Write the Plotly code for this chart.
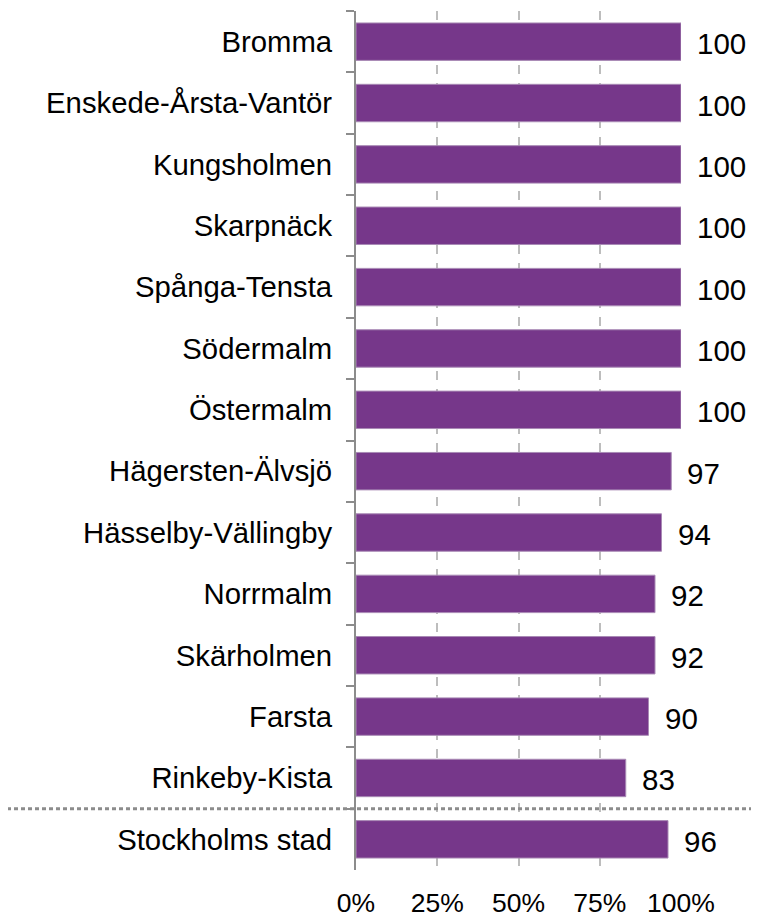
import plotly.graph_objects as go

# districts, top to bottom
districts = [
    "Bromma", "Enskede-Årsta-Vantör", "Kungsholmen", "Skarpnäck",
    "Spånga-Tensta", "Södermalm", "Östermalm", "Hägersten-Älvsjö",
    "Hässelby-Vällingby", "Norrmalm", "Skärholmen", "Farsta",
    "Rinkeby-Kista", "Stockholms stad",
]
values = [100, 100, 100, 100, 100, 100, 100, 97, 94, 92, 92, 90, 83, 96]

x_ticks = [0, 25, 50, 75, 100]
x_ticklabels = ["0%", "25%", "50%", "75%", "100%"]

PURPLE = "#76378A"
FONT = "Liberation Sans, Arial, sans-serif"

# page body has an 8px margin, so the figure is a bit smaller
W, H = 751, 911
left_m, right_m, top_m, bot_m = 348, 78, 3, 49
plot_w = W - left_m - right_m

fig = go.Figure()

fig.add_trace(
    go.Bar(
        x=values,
        y=districts,
        orientation="h",
        marker=dict(color=PURPLE, line=dict(color="#A98AB5", width=1)),
        width=0.61,
        hoverinfo="x+y",
    )
)

# value labels right of each bar
for d, v in zip(districts, values):
    fig.add_annotation(
        x=v, y=d, text=str(v), showarrow=False,
        xanchor="left", xshift=14, yshift=-2,
        font=dict(family=FONT, size=29.5, color="black"),
    )

# dotted separator above the city total
fig.add_shape(
    type="line", xref="paper", yref="y",
    x0=-(left_m + 8) / plot_w, x1=(W - left_m) / plot_w,
    y0=12.5, y1=12.5,
    line=dict(color="#8C8C8C", width=3, dash="4px,3px"),
)

fig.update_layout(
    width=W,
    height=H,
    margin=dict(l=left_m, r=right_m, t=top_m, b=bot_m),
    plot_bgcolor="white",
    paper_bgcolor="white",
    showlegend=False,
    font=dict(family=FONT, size=22, color="black"),
    xaxis=dict(
        range=[0, 100],
        tickvals=x_ticks,
        ticktext=x_ticklabels,
        showgrid=True,
        gridcolor="#BDBDBD",
        gridwidth=2,
        griddash="dash",
        zeroline=False,
        showline=False,
        ticks="",
        ticklabelstandoff=14,
        automargin=False,
        tickfont=dict(family=FONT, size=26.5, color="black"),
    ),
    yaxis=dict(
        categoryorder="array",
        categoryarray=districts,
        autorange="reversed",
        showline=True,
        linecolor="#8C8C8C",
        linewidth=2,
        ticks="outside",
        tickson="boundaries",
        ticklen=8,
        tickcolor="#8C8C8C",
        tickwidth=2,
        ticklabelstandoff=16,
        showgrid=False,
        automargin=False,
        tickfont=dict(family=FONT, size=29.3, color="black"),
    ),
)

fig.write_html("out.html")
